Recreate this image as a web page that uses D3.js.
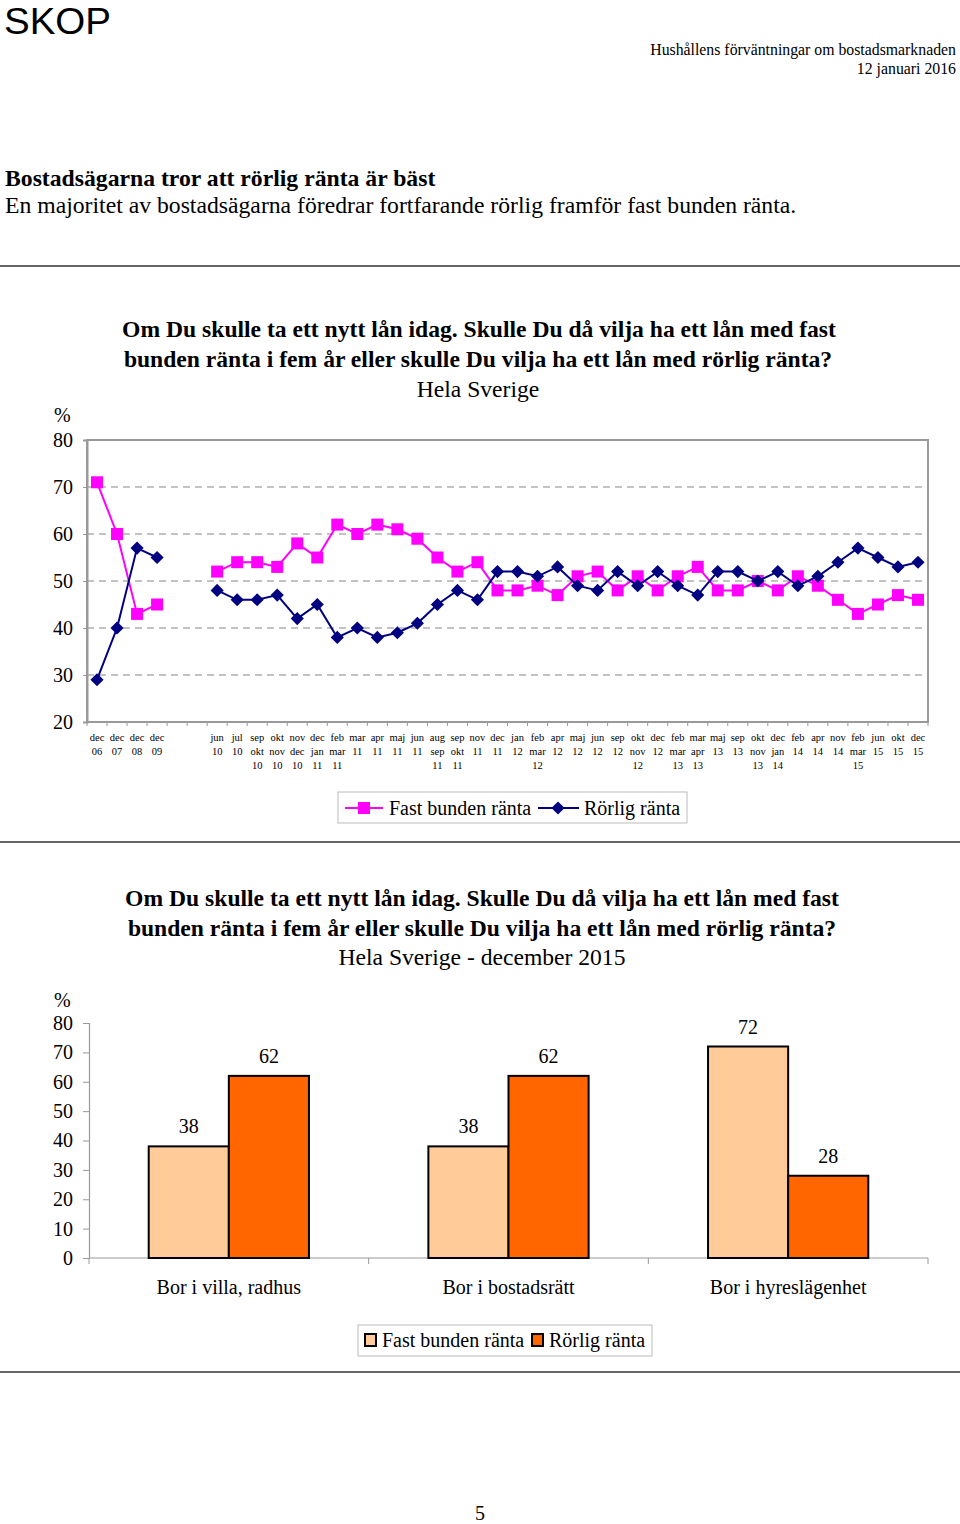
<!DOCTYPE html>
<html>
<head>
<meta charset="utf-8">
<script src="https://cdn.jsdelivr.net/npm/d3@7"></script>
<style>
  html, body { margin: 0; padding: 0; background: #fff; }
  svg { display: block; }
  text { font-family: "Liberation Serif", "Times New Roman", serif; fill: #000; }
</style>
</head>
<body>
<script>
// ---------- DATA ----------
const lineCategories = ["dec\n06","dec\n07","dec\n08","dec\n09","","","jun\n10","jul\n10","sep\nokt\n10","okt\nnov\n10","nov\ndec\n10","dec\njan\n11","feb\nmar\n11","mar\n11","apr\n11","maj\n11","jun\n11","aug\nsep\n11","sep\nokt\n11","nov\n11","dec\n11","jan\n12","feb\nmar\n12","apr\n12","maj\n12","jun\n12","sep\n12","okt\nnov\n12","dec\n12","feb\nmar\n13","mar\napr\n13","maj\n13","sep\n13","okt\nnov\n13","dec\njan\n14","feb\n14","apr\n14","nov\n14","feb\nmar\n15","jun\n15","okt\n15","dec\n15"];
const fastSeries = [71,60,43,45,null,null,52,54,54,53,58,55,62,60,62,61,59,55,52,54,48,48,49,47,51,52,48,51,48,51,53,48,48,50,48,51,49,46,43,45,47,46];
const rorligSeries = [29,40,57,55,null,null,48,46,46,47,42,45,38,40,38,39,41,45,48,46,52,52,51,53,49,48,52,49,52,49,47,52,52,50,52,49,51,54,57,55,53,54];
const lineTicks = [20,30,40,50,60,70,80];
const gridTicks = [30,40,50,60,70];

const barGroups = ["Bor i villa, radhus","Bor i bostadsrätt","Bor i hyreslägenhet"];
const barFast = [38,38,72];
const barRorlig = [62,62,28];
const barTicks = [0,10,20,30,40,50,60,70,80];

const seriesNames = ["Fast bunden ränta","Rörlig ränta"];

// ---------- SVG ----------
const W = 960, H = 1524;
const svg = d3.select("body").append("svg").attr("width", W).attr("height", H);

// Header
svg.append("text").attr("x", 4).attr("y", 34).attr("textLength", 107).attr("lengthAdjust", "spacingAndGlyphs")
  .style("font-family", "'Liberation Sans', Arial, sans-serif").style("font-size", "37px").text("SKOP");
svg.append("text").attr("x", 956).attr("y", 55).attr("text-anchor", "end").style("font-size", "15.8px")
  .text("Hushållens förväntningar om bostadsmarknaden");
svg.append("text").attr("x", 956).attr("y", 74).attr("text-anchor", "end").style("font-size", "15.8px")
  .text("12 januari 2016");
svg.append("text").attr("x", 5).attr("y", 186).style("font-size", "23.7px").style("font-weight", "bold")
  .text("Bostadsägarna tror att rörlig ränta är bäst");
svg.append("text").attr("x", 5).attr("y", 213).style("font-size", "23.7px")
  .text("En majoritet av bostadsägarna föredrar fortfarande rörlig framför fast bunden ränta.");

// Rules
[266, 842, 1372].forEach(y => {
  svg.append("line").attr("x1", 0).attr("x2", 960).attr("y1", y).attr("y2", y)
    .attr("stroke", "#333").attr("stroke-width", 1.5);
});

// ---------- LINE CHART ----------
const L = { left: 87, right: 928, top: 440, bottom: 722 };
svg.append("text").attr("x", 479).attr("y", 337).attr("text-anchor", "middle")
  .style("font-size", "23.6px").style("font-weight", "bold")
  .text("Om Du skulle ta ett nytt lån idag. Skulle Du då vilja ha ett lån med fast");
svg.append("text").attr("x", 478).attr("y", 367).attr("text-anchor", "middle")
  .style("font-size", "23.6px").style("font-weight", "bold")
  .text("bunden ränta i fem år eller skulle Du vilja ha ett lån med rörlig ränta?");
svg.append("text").attr("x", 478).attr("y", 397).attr("text-anchor", "middle")
  .style("font-size", "23.6px").text("Hela Sverige");

const xL = d3.scaleBand().domain(d3.range(lineCategories.length)).range([L.left, L.right]);
const yL = d3.scaleLinear().domain([20, 80]).range([L.bottom, L.top]);
const cx = i => xL(i) + xL.bandwidth() / 2;

// grid
svg.append("g").selectAll("line").data(gridTicks).join("line")
  .attr("x1", L.left).attr("x2", L.right).attr("y1", d => yL(d)).attr("y2", d => yL(d))
  .attr("stroke", "#888").attr("stroke-width", 1.2).attr("stroke-dasharray", "7,5");

// frame
svg.append("rect").attr("x", L.left).attr("y", L.top).attr("width", L.right - L.left).attr("height", L.bottom - L.top)
  .attr("fill", "none").attr("stroke", "#999").attr("stroke-width", 2);

// y axis
const yAxisL = svg.append("g").attr("transform", `translate(${L.left},0)`)
  .call(d3.axisLeft(yL).tickValues(lineTicks).tickSize(4).tickPadding(10));
yAxisL.select(".domain").attr("stroke", "#999").attr("stroke-width", 2);
yAxisL.selectAll(".tick line").attr("stroke", "#999");
yAxisL.selectAll(".tick text").style("font-size", "20px").style("font-family", "'Liberation Serif', serif");
svg.append("text").attr("x", 54).attr("y", 422).style("font-size", "20px").text("%");

// x ticks at category boundaries
const xBoundaries = d3.range(lineCategories.length + 1);
svg.append("g").selectAll("line").data(xBoundaries).join("line")
  .attr("x1", d => L.left + d * xL.step()).attr("x2", d => L.left + d * xL.step())
  .attr("y1", L.bottom).attr("y2", L.bottom + 4).attr("stroke", "#999").attr("stroke-width", 1);

// x labels
const xlab = svg.append("g").selectAll("text").data(lineCategories).join("text")
  .attr("x", (d, i) => cx(i)).attr("text-anchor", "middle").style("font-size", "10.5px");
xlab.each(function (d, i) {
  const parts = d.split("\n");
  d3.select(this).selectAll("tspan").data(parts).join("tspan")
    .attr("x", cx(i)).attr("y", (p, j) => 741 + j * 14).text(p => p);
});

const lineGen = d3.line().defined(d => d.v != null).x(d => cx(d.i)).y(d => yL(d.v));
const fastPts = fastSeries.map((v, i) => ({ i, v }));
const rorPts = rorligSeries.map((v, i) => ({ i, v }));

const PINK = "#ff00ff", NAVY = "#000080";
svg.append("path").datum(fastPts).attr("d", lineGen).attr("fill", "none").attr("stroke", PINK).attr("stroke-width", 2);
svg.append("g").selectAll("rect").data(fastPts.filter(d => d.v != null)).join("rect")
  .attr("x", d => cx(d.i) - 6).attr("y", d => yL(d.v) - 6).attr("width", 12).attr("height", 12).attr("fill", PINK);

svg.append("path").datum(rorPts).attr("d", lineGen).attr("fill", "none").attr("stroke", NAVY).attr("stroke-width", 2);
const diamond = d3.symbol().type(d3.symbolDiamond2).size(110);
svg.append("g").selectAll("path").data(rorPts.filter(d => d.v != null)).join("path")
  .attr("transform", d => `translate(${cx(d.i)},${yL(d.v)})`).attr("d", diamond).attr("fill", NAVY);

// line legend
const lg = svg.append("g");
lg.append("rect").attr("x", 338).attr("y", 792).attr("width", 349).attr("height", 31)
  .attr("fill", "#fff").attr("stroke", "#bbb").attr("stroke-width", 1);
lg.append("line").attr("x1", 345).attr("x2", 383).attr("y1", 808).attr("y2", 808).attr("stroke", PINK).attr("stroke-width", 2);
lg.append("rect").attr("x", 358).attr("y", 802).attr("width", 12).attr("height", 12).attr("fill", PINK);
lg.append("text").attr("x", 389).attr("y", 815).style("font-size", "20px").text(seriesNames[0]);
lg.append("line").attr("x1", 538).attr("x2", 579).attr("y1", 808).attr("y2", 808).attr("stroke", NAVY).attr("stroke-width", 2);
lg.append("path").attr("transform", "translate(558,808)").attr("d", diamond).attr("fill", NAVY);
lg.append("text").attr("x", 584).attr("y", 815).style("font-size", "20px").text(seriesNames[1]);

// ---------- BAR CHART ----------
const B = { left: 89, right: 928, top: 1023, bottom: 1258 };
svg.append("text").attr("x", 482).attr("y", 906).attr("text-anchor", "middle")
  .style("font-size", "23.6px").style("font-weight", "bold")
  .text("Om Du skulle ta ett nytt lån idag. Skulle Du då vilja ha ett lån med fast");
svg.append("text").attr("x", 482).attr("y", 936).attr("text-anchor", "middle")
  .style("font-size", "23.6px").style("font-weight", "bold")
  .text("bunden ränta i fem år eller skulle Du vilja ha ett lån med rörlig ränta?");
svg.append("text").attr("x", 482).attr("y", 965).attr("text-anchor", "middle")
  .style("font-size", "23.6px").text("Hela Sverige - december 2015");

const xB = d3.scaleBand().domain(barGroups).range([B.left, B.right]).paddingInner(0).paddingOuter(0);
const xInner = d3.scaleBand().domain(seriesNames).range([xB.bandwidth() * 0.2135, xB.bandwidth() * 0.7865]);
const yB = d3.scaleLinear().domain([0, 80]).range([B.bottom, B.top]);

const yAxisB = svg.append("g").attr("transform", `translate(${B.left},0)`)
  .call(d3.axisLeft(yB).tickValues(barTicks).tickSize(6).tickPadding(10));
yAxisB.select(".domain").attr("stroke", "#999").attr("stroke-width", 1.2);
yAxisB.selectAll(".tick line").attr("stroke", "#999");
yAxisB.selectAll(".tick text").style("font-size", "20px").style("font-family", "'Liberation Serif', serif");
svg.append("text").attr("x", 54).attr("y", 1007).style("font-size", "20px").text("%");

// bottom axis
svg.append("line").attr("x1", B.left).attr("x2", B.right).attr("y1", B.bottom).attr("y2", B.bottom)
  .attr("stroke", "#999").attr("stroke-width", 1.2);
const bounds = barGroups.map(g => xB(g)).concat([B.right]);
svg.append("g").selectAll("line").data(bounds).join("line")
  .attr("x1", d => d).attr("x2", d => d).attr("y1", B.bottom).attr("y2", B.bottom + 6)
  .attr("stroke", "#999").attr("stroke-width", 1);

const barData = [];
barGroups.forEach((g, i) => {
  barData.push({ g, s: seriesNames[0], v: barFast[i], c: "#ffcc99" });
  barData.push({ g, s: seriesNames[1], v: barRorlig[i], c: "#ff6600" });
});
svg.append("g").selectAll("rect").data(barData).join("rect")
  .attr("x", d => xB(d.g) + xInner(d.s)).attr("y", d => yB(d.v))
  .attr("width", xInner.bandwidth()).attr("height", d => B.bottom - yB(d.v))
  .attr("fill", d => d.c).attr("stroke", "#000").attr("stroke-width", 2);
svg.append("g").selectAll("text").data(barData).join("text")
  .attr("x", d => xB(d.g) + xInner(d.s) + xInner.bandwidth() / 2).attr("y", d => yB(d.v) - 13)
  .attr("text-anchor", "middle").style("font-size", "20px").text(d => d.v);

svg.append("g").selectAll("text").data(barGroups).join("text")
  .attr("x", d => xB(d) + xB.bandwidth() / 2).attr("y", 1294).attr("text-anchor", "middle")
  .style("font-size", "20px").text(d => d);

// bar legend
const bl = svg.append("g");
bl.append("rect").attr("x", 358).attr("y", 1325).attr("width", 294).attr("height", 31)
  .attr("fill", "#fff").attr("stroke", "#bbb").attr("stroke-width", 1);
bl.append("rect").attr("x", 365).attr("y", 1334).attr("width", 11).attr("height", 12)
  .attr("fill", "#ffcc99").attr("stroke", "#000").attr("stroke-width", 2);
bl.append("text").attr("x", 382).attr("y", 1347).style("font-size", "20px").text(seriesNames[0]);
bl.append("rect").attr("x", 532).attr("y", 1334).attr("width", 11).attr("height", 12)
  .attr("fill", "#ff6600").attr("stroke", "#000").attr("stroke-width", 2);
bl.append("text").attr("x", 549).attr("y", 1347).style("font-size", "20px").text(seriesNames[1]);

// page number
svg.append("text").attr("x", 480).attr("y", 1520).attr("text-anchor", "middle").style("font-size", "20px").text("5");
</script>
</body>
</html>
